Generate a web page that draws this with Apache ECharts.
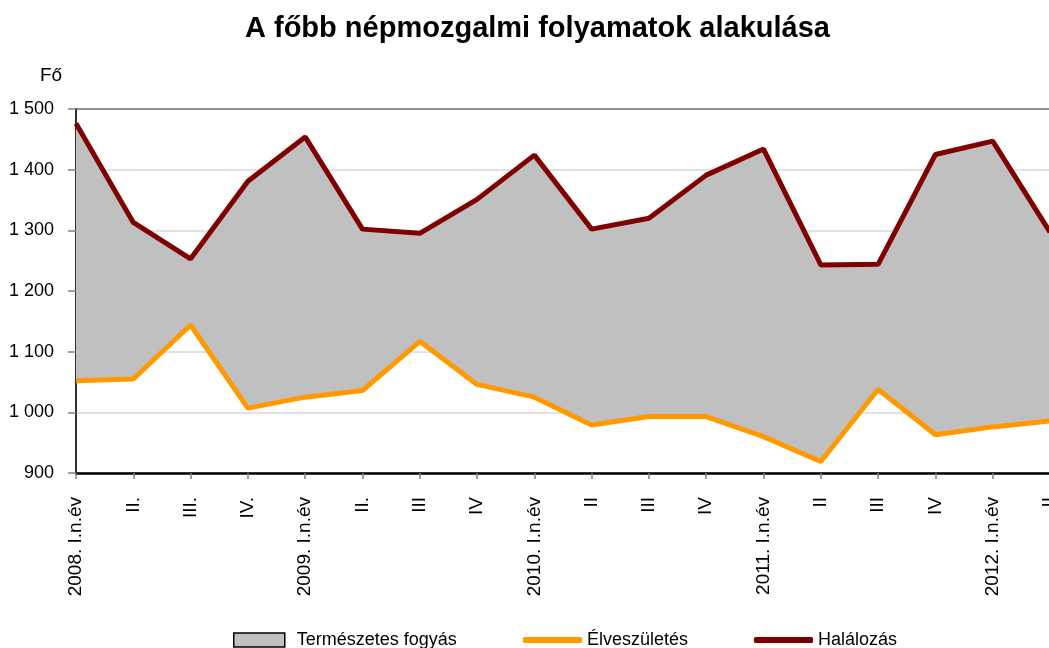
<!DOCTYPE html>
<html>
<head>
<meta charset="utf-8">
<script src="https://cdn.jsdelivr.net/npm/echarts@6/dist/echarts.min.js"></script>
<style>html,body{margin:0;padding:0;background:#fff}#c{width:1049px;height:648px}</style>
</head>
<body>
<div id="c"></div>
<script>
const categories = ['2008. I.n.év','II.','III.','IV.','2009. I.n.év','II.','III','IV','2010. I.n.év','II','III','IV','2011. I.n.év','II','III','IV','2012. I.n.év','II'];
const births = [1052, 1055, 1144, 1007, 1025, 1036, 1117, 1046, 1025, 979, 993, 993, 960, 919, 1038, 963, 976, 986];
const deaths = [1476, 1313, 1253, 1381, 1454, 1302, 1295, 1351, 1424, 1302, 1320, 1391, 1434, 1243, 1244, 1425, 1447, 1297];
const yTicks = [900, 1000, 1100, 1200, 1300, 1400, 1500];

const decline = deaths.map((d, i) => d - births[i]);
const font = 'Liberation Sans, Arial, sans-serif';
const fmt = v => { const s = String(v); return s.length > 3 ? s.slice(0, s.length - 3) + ' ' + s.slice(-3) : s; };
const legendText = {fontFamily: font, fontSize: 18, color: '#000'};
const gridColors = yTicks.map((v, i) => i === yTicks.length - 1 ? '#808080' : '#d9d9d9');

const chart = echarts.init(document.getElementById('c'), null, {renderer: 'canvas'});
chart.setOption({
  backgroundColor: '#fff',
  animation: false,
  textStyle: {fontFamily: font},
  title: [
    {text: 'A főbb népmozgalmi folyamatok alakulása', left: 240, top: 9,
     textStyle: {fontFamily: font, fontSize: 29, fontWeight: 'bold', color: '#000'}},
    {text: 'Fő', left: 35, top: 61, textStyle: {fontFamily: font, fontSize: 19, fontWeight: 'normal', color: '#000'}}
  ],
  grid: {left: 76, right: -1, top: 109, bottom: 175, show: true, borderColor: '#808080', borderWidth: 1,
         containLabel: false, outerBoundsMode: 'none'},
  legend: [
    {left: 233, top: 631, padding: 0, itemWidth: 51, itemHeight: 14, textStyle: Object.assign({padding: [0, 0, 0, 7]}, legendText),
     data: [{name: 'Természetes fogyás', icon: 'rect', itemStyle: {color: '#C0C0C0', borderColor: '#000', borderWidth: 1.5}}]},
    {left: 523, top: 631, padding: 0, itemWidth: 59, itemHeight: 6, textStyle: legendText,
     data: [{name: 'Élveszületés', icon: 'roundRect', itemStyle: {color: '#FF9900'}}]},
    {left: 754, top: 631, padding: 0, itemWidth: 59, itemHeight: 6, textStyle: legendText,
     data: [{name: 'Halálozás', icon: 'roundRect', itemStyle: {color: '#800000'}}]}
  ],
  xAxis: {
    type: 'category', data: categories, boundaryGap: false,
    axisLine: {lineStyle: {color: '#000', width: 2.5}},
    axisTick: {show: true, alignWithLabel: true, length: 6, lineStyle: {color: '#808080', width: 1.5}},
    axisLabel: {rotate: 90, interval: 0, margin: 24, fontFamily: font, fontSize: 19, color: '#000'},
    splitLine: {show: false}
  },
  yAxis: {
    type: 'value', min: 900, max: 1500, interval: 100,
    axisLine: {show: true, lineStyle: {color: '#000', width: 1.5}},
    axisTick: {show: true, length: 8, lineStyle: {color: '#808080', width: 1.5}},
    axisLabel: {margin: 22, fontFamily: font, fontSize: 18, color: '#000', formatter: v => yTicks.includes(v) ? fmt(v) : ''},
    splitLine: {show: true, lineStyle: {color: gridColors, width: 1.5}}
  },
  series: [
    {name: 'base', type: 'line', stack: 'a', data: births, symbol: 'none', lineStyle: {width: 0, opacity: 0}, silent: true, legendHoverLink: false},
    {name: 'Természetes fogyás', type: 'line', stack: 'a', data: decline, symbol: 'none',
     lineStyle: {width: 0, opacity: 0}, areaStyle: {color: '#C0C0C0', opacity: 1}, itemStyle: {color: '#C0C0C0'}},
    {name: 'Élveszületés', type: 'line', data: births, symbol: 'none', lineStyle: {color: '#FF9900', width: 5}, itemStyle: {color: '#FF9900'}},
    {name: 'Halálozás', type: 'line', data: deaths, symbol: 'none', lineStyle: {color: '#800000', width: 5}, itemStyle: {color: '#800000'}}
  ]
});
</script>
</body>
</html>
